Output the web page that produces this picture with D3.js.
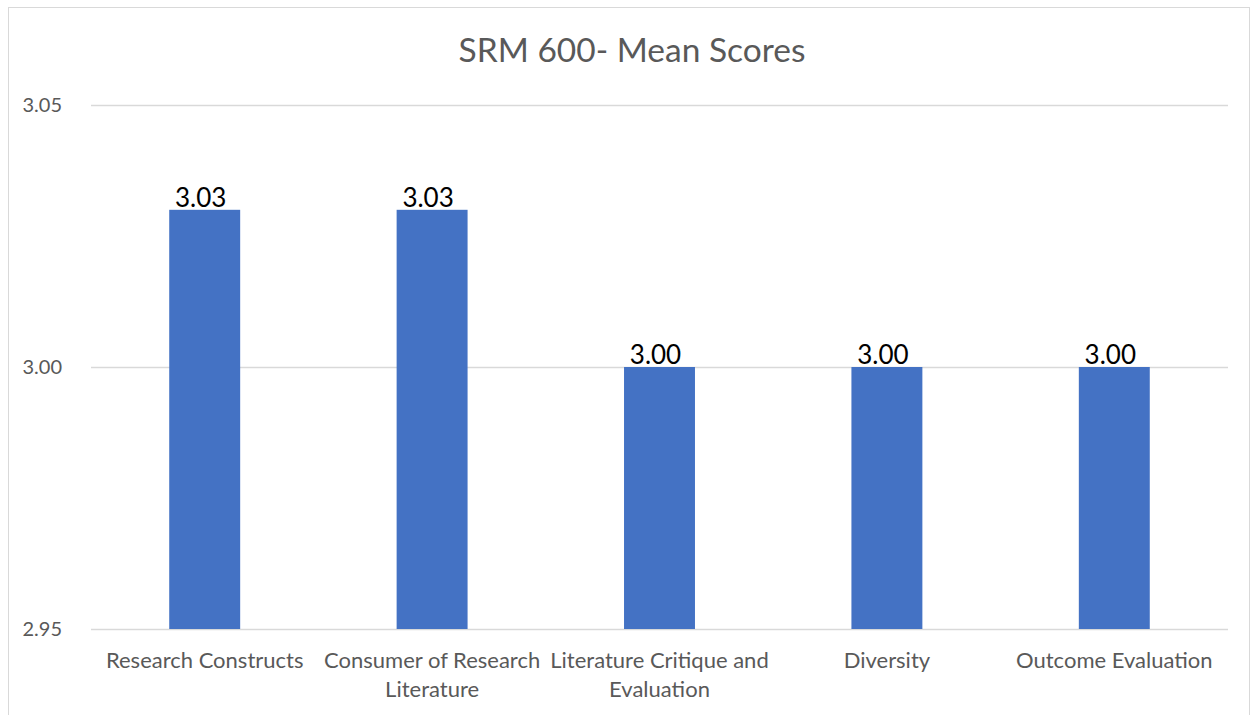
<!DOCTYPE html>
<html>
<head>
<meta charset="utf-8">
<script src="https://cdn.jsdelivr.net/npm/d3@7"></script>
<style>
  body { margin: 0; background: #fff; }
  text { font-family: Lato, "Open Sans", sans-serif; }
</style>
</head>
<body>
<div id="chart"></div>
<script>
// data
var categories = ["Research Constructs", "Consumer of Research Literature", "Literature Critique and Evaluation", "Diversity", "Outcome Evaluation"];
var scores = [3.03, 3.03, 3.00, 3.00, 3.00];
var yTicks = [2.95, 3.00, 3.05];
var title = "SRM 600- Mean Scores";

var width = 1252, height = 715;
var margin = {left: 91, right: 24, top: 105, bottom: 86};

var svg = d3.select("#chart").append("svg")
    .attr("width", width)
    .attr("height", height);

// chart border
svg.append("rect")
    .attr("x", 8.5).attr("y", 7.5)
    .attr("width", 1241).attr("height", 730)
    .attr("fill", "none")
    .attr("stroke", "#d9d9d9");

var x = d3.scaleBand()
    .domain(categories)
    .range([margin.left, width - margin.right])
    .paddingInner(0.688)
    .paddingOuter(0.344);

var y = d3.scaleLinear()
    .domain([2.95, 3.05])
    .range([height - margin.bottom, margin.top]);

// gridlines
svg.append("g")
  .selectAll("line")
  .data(yTicks)
  .enter()
  .append("line")
    .attr("x1", margin.left)
    .attr("x2", width - margin.right)
    .attr("y1", function(d){ return Math.round(y(d)) + 0.5; })
    .attr("y2", function(d){ return Math.round(y(d)) + 0.5; })
    .attr("stroke", "#d9d9d9")
    .attr("stroke-width", 1.5);

// y labels
var yAxis = d3.axisLeft(y).tickValues(yTicks).tickFormat(d3.format(".2f")).tickSize(0).tickPadding(0);
var gy = svg.append("g")
    .attr("transform", "translate(62,0)")
    .call(yAxis);
gy.select(".domain").remove();
gy.selectAll("text")
    .attr("fill", "#595959")
    .style("font-size", "20px")
    .style("font-family", "Lato, sans-serif");

// bars
svg.selectAll(".bar")
  .data(scores)
  .enter()
  .append("rect")
    .attr("class", "bar")
    .attr("x", function(d, i){ return x(categories[i]); })
    .attr("width", x.bandwidth())
    .attr("y", function(d){ return y(d); })
    .attr("height", function(d){ return y(2.95) - y(d); })
    .attr("fill", "#4472c4");

// value labels
svg.selectAll(".val")
  .data(scores)
  .enter()
  .append("text")
    .attr("class", "val")
    .attr("x", function(d, i){ return x(categories[i]) + x.bandwidth() / 2 - 4; })
    .attr("y", function(d){ return y(d) - 3; })
    .attr("text-anchor", "middle")
    .attr("fill", "#000")
    .style("font-size", "26px")
    .text(function(d){ return d3.format(".2f")(d); });

// x labels, wrapped to band width
var xAxis = d3.axisBottom(x).tickSize(0).tickPadding(0);
var gx = svg.append("g")
    .attr("transform", "translate(0," + (height - margin.bottom) + ")")
    .call(xAxis);
gx.select(".domain").remove();
gx.selectAll("text")
    .attr("fill", "#595959")
    .style("font-size", "22px")
    .style("font-family", "Lato, sans-serif")
    .attr("dy", null)
    .attr("y", 0)
    .each(function(d){
      var t = d3.select(this);
      var words = d.split(" ");
      t.text(null);
      var lines = [], line = [];
      var tspan = t.append("tspan");
      words.forEach(function(w){
        line.push(w);
        tspan.text(line.join(" "));
        if (tspan.node().getComputedTextLength() > x.step() - 2 && line.length > 1) {
          line.pop();
          lines.push(line.join(" "));
          line = [w];
        }
      });
      lines.push(line.join(" "));
      t.text(null);
      lines.forEach(function(l, k){
        t.append("tspan").attr("x", 0).attr("y", 39 + k * 29).text(l);
      });
    });

// title
svg.append("text")
    .attr("x", 632)
    .attr("y", 62)
    .attr("text-anchor", "middle")
    .attr("fill", "#595959")
    .style("font-size", "33.5px")
    .text(title);
</script>
</body>
</html>
